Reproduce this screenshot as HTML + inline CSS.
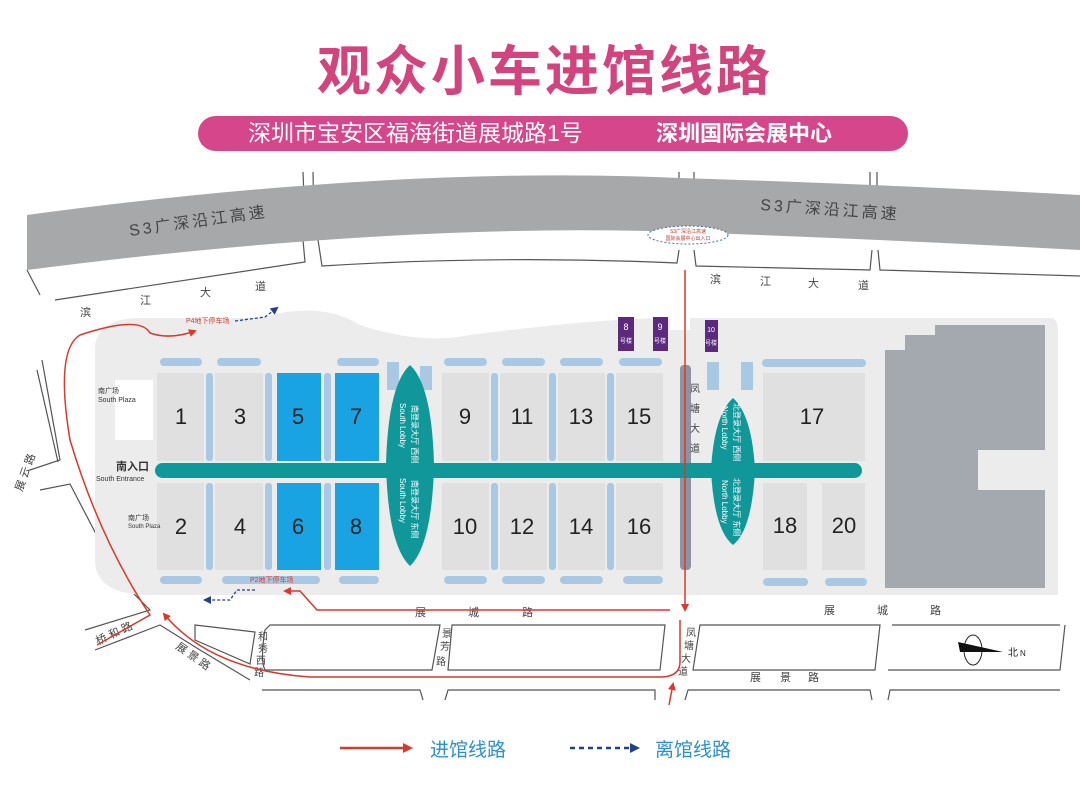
<!DOCTYPE html>
<html><head><meta charset="utf-8"><style>
body{margin:0;background:#fff;}
svg{display:block;font-family:"Liberation Sans","Noto Sans CJK SC",sans-serif;}
</style></head><body>
<svg width="1080" height="802" viewBox="0 0 1080 802" xmlns="http://www.w3.org/2000/svg">
<defs>
<marker id="ar" markerWidth="8" markerHeight="8" refX="6" refY="4" orient="auto" markerUnits="userSpaceOnUse"><path d="M0,0 L8,4 L0,8 z" fill="#d9392b"/></marker>
<marker id="ab" markerWidth="8" markerHeight="8" refX="6" refY="4" orient="auto" markerUnits="userSpaceOnUse"><path d="M0,0 L8,4 L0,8 z" fill="#23408e"/></marker>
</defs>
<!-- title -->
<text x="545" y="90" text-anchor="middle" font-size="54" font-weight="bold" fill="#d2447e" letter-spacing="3">观众小车进馆线路</text>
<rect x="198" y="116" width="710" height="35" rx="17.5" fill="#d6468a"/>
<text x="248" y="141" font-size="23" fill="#fff">深圳市宝安区福海街道展城路1号</text>
<text x="656" y="141" font-size="22" font-weight="bold" fill="#fff">深圳国际会展中心</text>
<!-- connector roads top -->
<g fill="none" stroke="#555" stroke-width="1.2">
<path d="M303,172 L305,222 M313,172 L314,222"/>
<path d="M679,172 L679,230 M694,172 L694,230"/>
<path d="M870,172 L870,230 M877,172 L877,230"/>
<path d="M303,240 L305,262 L55,300 M27,270 L40,295"/>
<path d="M318,240 L322,266 Q500,255 677,263 L679,250"/>
<path d="M694,250 L696,266 L870,270 L872,250"/>
<path d="M878,250 L880,270 L1080,276"/>
<!-- left roads -->
<path d="M42,360 L60,460 L30,470"/>
<path d="M37,370 L58,462"/>
<path d="M40,490 L70,484 L120,580 L150,610 L85,630"/>
<path d="M95,650 L160,625 L200,650 L250,680"/>
<!-- lower blocks -->
<path d="M195,625 L255,632 L250,664 L195,640 z"/>
<path d="M270,625 L440,625 L432,670 L265,670 Q260,660 265,630 z"/>
<path d="M452,625 L665,625 L660,670 L448,670 z"/>
<path d="M700,625 L880,625 L875,670 L693,670 z"/>
<path d="M892,625 L1060,625 M888,670 L1060,670 L1065,625"/>
<path d="M262,690 L420,690 L423,700 M445,700 L448,690 L655,690 L655,700"/>
<path d="M685,700 L688,690 L870,690 L872,700 M888,700 L890,690 L1060,690"/>
</g>
<!-- highway -->
<path d="M27,215 Q400,165 680,178 Q900,185 1080,195 L1080,250 Q900,240 680,232 Q400,222 27,270 z" fill="#a7a8aa"/>
<text x="130" y="236" font-size="16" fill="#444" letter-spacing="3" transform="rotate(-8 130 236)">S3广深沿江高速</text>
<text x="760" y="210" font-size="16" fill="#444" letter-spacing="3" transform="rotate(4 760 210)">S3广深沿江高速</text>
<ellipse cx="688" cy="235" rx="40" ry="9" fill="#fff" stroke="#4a6fa0" stroke-dasharray="2,2"/>
<text x="688" y="233" font-size="5" fill="#c0392b" text-anchor="middle">S3广深沿江高速</text>
<text x="688" y="240" font-size="5" fill="#c0392b" text-anchor="middle">国际会展中心出入口</text>
<!-- site background -->
<path d="M95,345 Q100,318 140,318 L260,318 Q320,300 360,325 Q420,345 470,335 Q600,318 670,318 L670,330 L690,330 L690,318 L1050,318 Q1058,318 1058,330 L1058,595 L150,595 Q95,595 95,560 z" fill="#ececec"/>
<rect x="115" y="380" width="38" height="60" fill="#fff"/>
<!-- blue bars -->
<g fill="#a9c8e3">
<rect x="160" y="358" width="42" height="8" rx="4"/><rect x="217" y="358" width="44" height="8" rx="4"/>
<rect x="337" y="358" width="42" height="8" rx="4"/>
<rect x="444" y="358" width="43" height="8" rx="4"/><rect x="502" y="358" width="43" height="8" rx="4"/><rect x="560" y="358" width="43" height="8" rx="4"/><rect x="619" y="358" width="43" height="8" rx="4"/>
<rect x="762" y="359" width="104" height="8" rx="4"/>
<rect x="160" y="576" width="42" height="8" rx="4"/><rect x="222" y="576" width="98" height="8" rx="4"/><rect x="339" y="576" width="40" height="8" rx="4"/>
<rect x="444" y="576" width="43" height="8" rx="4"/><rect x="502" y="576" width="43" height="8" rx="4"/><rect x="560" y="576" width="43" height="8" rx="4"/><rect x="623" y="576" width="40" height="8" rx="4"/>
<rect x="763" y="578" width="45" height="8" rx="4"/><rect x="825" y="578" width="42" height="8" rx="4"/>
<rect x="206" y="373" width="7" height="88" rx="3"/><rect x="265" y="373" width="7" height="88" rx="3"/><rect x="324" y="373" width="7" height="88" rx="3"/>
<rect x="206" y="483" width="7" height="87" rx="3"/><rect x="265" y="483" width="7" height="87" rx="3"/><rect x="324" y="483" width="7" height="87" rx="3"/>
<rect x="491" y="373" width="7" height="88" rx="3"/><rect x="549" y="373" width="7" height="88" rx="3"/><rect x="607" y="373" width="7" height="88" rx="3"/>
<rect x="491" y="483" width="7" height="87" rx="3"/><rect x="549" y="483" width="7" height="87" rx="3"/><rect x="607" y="483" width="7" height="87" rx="3"/>
<rect x="387" y="362" width="12" height="28"/><rect x="420" y="366" width="12" height="24"/>
<rect x="707" y="362" width="12" height="28"/><rect x="741" y="362" width="12" height="28"/>
</g>
<!-- halls -->
<g fill="#e0e0e0">
<rect x="157" y="373" width="47" height="88"/><rect x="215" y="373" width="48" height="88"/>
<rect x="157" y="483" width="47" height="87"/><rect x="215" y="483" width="48" height="87"/>
<rect x="442" y="373" width="47" height="88"/><rect x="500" y="373" width="47" height="88"/><rect x="558" y="373" width="47" height="88"/><rect x="616" y="373" width="47" height="88"/>
<rect x="442" y="483" width="47" height="87"/><rect x="500" y="483" width="47" height="87"/><rect x="558" y="483" width="47" height="87"/><rect x="616" y="483" width="47" height="87"/>
<rect x="763" y="373" width="102" height="88"/>
<rect x="763" y="483" width="44" height="87"/><rect x="822" y="483" width="43" height="87"/>
</g>
<g fill="#1aa3e2">
<rect x="277" y="373" width="44" height="88"/><rect x="335" y="373" width="44" height="88"/>
<rect x="277" y="483" width="44" height="87"/><rect x="335" y="483" width="44" height="87"/>
</g>
<!-- big building -->
<path d="M885,350 L905,350 L905,335 L935,335 L935,325 L1045,325 L1045,450 L978,450 L978,490 L1045,490 L1045,588 L885,588 z" fill="#a3a9ae"/>
<!-- purple bldgs -->
<g fill="#5b2a7e"><rect x="618" y="317" width="16" height="34"/><rect x="653" y="317" width="15" height="34"/><rect x="705" y="320" width="13" height="32"/></g>
<g fill="#fff" font-size="9" text-anchor="middle"><text x="626" y="330">8</text><text x="660" y="330">9</text><text x="711" y="332" font-size="7">10</text>
<text x="626" y="343" font-size="6">号楼</text><text x="660" y="343" font-size="6">号楼</text><text x="711" y="345" font-size="6">号楼</text></g>
<!-- middle road strip -->
<rect x="680" y="365" width="11" height="205" rx="4" fill="#8e93a3"/>
<!-- teal spine and lobbies -->
<rect x="155" y="463" width="707" height="15" rx="7.5" fill="#10979a"/>
<path d="M410,365 Q432,385 434,465 Q432,545 410,566 Q388,545 386,465 Q388,385 410,365 z" fill="#10979a"/>
<path d="M733,398 Q752,415 755,470 Q752,530 733,545 Q714,530 711,470 Q714,415 733,398 z" fill="#10979a"/>
<g fill="#fff" font-size="8">
<text transform="translate(412,405) rotate(90)">南登录大厅 西侧</text>
<text transform="translate(400,403) rotate(90)">South Lobby</text>
<text transform="translate(412,480) rotate(90)">南登录大厅 东侧</text>
<text transform="translate(400,478) rotate(90)">South Lobby</text>
<text transform="translate(734,403) rotate(90)">北登录大厅 西侧</text>
<text transform="translate(722,406) rotate(90)">North Lobby</text>
<text transform="translate(734,478) rotate(90)">北登录大厅 东侧</text>
<text transform="translate(722,480) rotate(90)">North Lobby</text>
</g>
<!-- hall numbers -->
<g font-size="22" fill="#222" text-anchor="middle">
<text x="181" y="424">1</text><text x="240" y="424">3</text><text x="298" y="424">5</text><text x="356" y="424">7</text>
<text x="181" y="534">2</text><text x="240" y="534">4</text><text x="298" y="534">6</text><text x="356" y="534">8</text>
<text x="465" y="424">9</text><text x="522" y="424">11</text><text x="581" y="424">13</text><text x="639" y="424">15</text>
<text x="465" y="534">10</text><text x="522" y="534">12</text><text x="581" y="534">14</text><text x="639" y="534">16</text>
<text x="812" y="424">17</text><text x="785" y="533">18</text><text x="844" y="533">20</text>
</g>
<!-- labels -->
<g fill="#333">
<text x="98" y="393" font-size="7">南广场</text><text x="98" y="402" font-size="7">South Plaza</text>
<text x="128" y="520" font-size="7">南广场</text><text x="128" y="528" font-size="6">South Plaza</text>
<text x="116" y="470" font-size="11" font-weight="bold">南入口</text><text x="96" y="481" font-size="7">South Entrance</text>
</g>
<g fill="#444" font-size="11">
<text x="80" y="316">滨</text><text x="140" y="304">江</text><text x="200" y="296">大</text><text x="255" y="290">道</text>
<text x="710" y="283">滨</text><text x="760" y="285">江</text><text x="808" y="287">大</text><text x="858" y="289">道</text>
<text x="415" y="616">展</text><text x="468" y="616">城</text><text x="522" y="616">路</text>
<text x="824" y="614">展</text><text x="877" y="614">城</text><text x="930" y="614">路</text>
<text x="750" y="681">展</text><text x="780" y="681">景</text><text x="808" y="681">路</text>
<text transform="translate(22,492) rotate(-70)">展 云 路</text>
<text transform="translate(98,645) rotate(-25)">桥 和 路</text>
<text transform="translate(175,648) rotate(35)">展 景 路</text>
<text x="258" y="640" font-size="10">和</text><text x="258" y="652" font-size="10">秀</text><text x="256" y="664" font-size="10">西</text><text x="254" y="676" font-size="10">路</text>
<text x="442" y="637" font-size="10">景</text><text x="440" y="650" font-size="10">芳</text><text x="436" y="665" font-size="10">路</text>
<text x="686" y="636" font-size="10">凤</text><text x="684" y="649" font-size="10">塘</text><text x="681" y="662" font-size="10">大</text><text x="678" y="675" font-size="10">道</text>
<text x="690" y="392" font-size="10">凤</text><text x="690" y="412" font-size="10">塘</text><text x="690" y="432" font-size="10">大</text><text x="690" y="452" font-size="10">道</text>
</g>
<text x="186" y="323" font-size="7" fill="#d9392b">P4地下停车场</text>
<text x="250" y="582" font-size="7" fill="#d9392b">P2地下停车场</text>
<!-- red routes -->
<g fill="none" stroke="#d9392b" stroke-width="1.5">
<path d="M97,645 L150,615 Q100,540 70,440 Q55,350 80,335 Q140,315 150,333 Q170,340 195,331" marker-end="url(#ar)"/>
<path d="M680,620 L680,662 Q680,677 660,677 L310,677 Q210,670 164,614" marker-end="url(#ar)"/>
<path d="M669,705 L673,684" marker-end="url(#ar)"/>
<path d="M685,270 L685,610" marker-end="url(#ar)"/>
<path d="M670,610 L317,610 L300,591 L285,591" marker-end="url(#ar)"/>
</g>
<!-- blue dotted -->
<g fill="none" stroke="#23408e" stroke-width="1.3" stroke-dasharray="3,2">
<path d="M235,321 L265,317 L277,308" marker-end="url(#ab)"/>
<path d="M255,590 L237,590 L230,600 L205,600" marker-end="url(#ab)"/>
</g>
<!-- compass -->
<ellipse cx="973" cy="650" rx="9" ry="15" fill="none" stroke="#222"/>
<path d="M958,642 L1003,652 L960,652 z" fill="#111"/>
<text x="1008" y="656" font-size="10" fill="#222">北</text><text x="1020" y="656" font-size="8" fill="#222">N</text>
<!-- legend -->
<line x1="340" y1="748" x2="405" y2="748" stroke="#d9392b" stroke-width="2.5"/>
<path d="M403,743 L413,748 L403,753 z" fill="#d9392b"/>
<text x="430" y="756" font-size="19" fill="#2b8fd0">进馆线路</text>
<line x1="570" y1="748" x2="630" y2="748" stroke="#23408e" stroke-width="2.5" stroke-dasharray="5,4"/>
<path d="M630,743 L640,748 L630,753 z" fill="#23408e"/>
<text x="655" y="756" font-size="19" fill="#2b8fd0">离馆线路</text>
</svg>
</body></html>
